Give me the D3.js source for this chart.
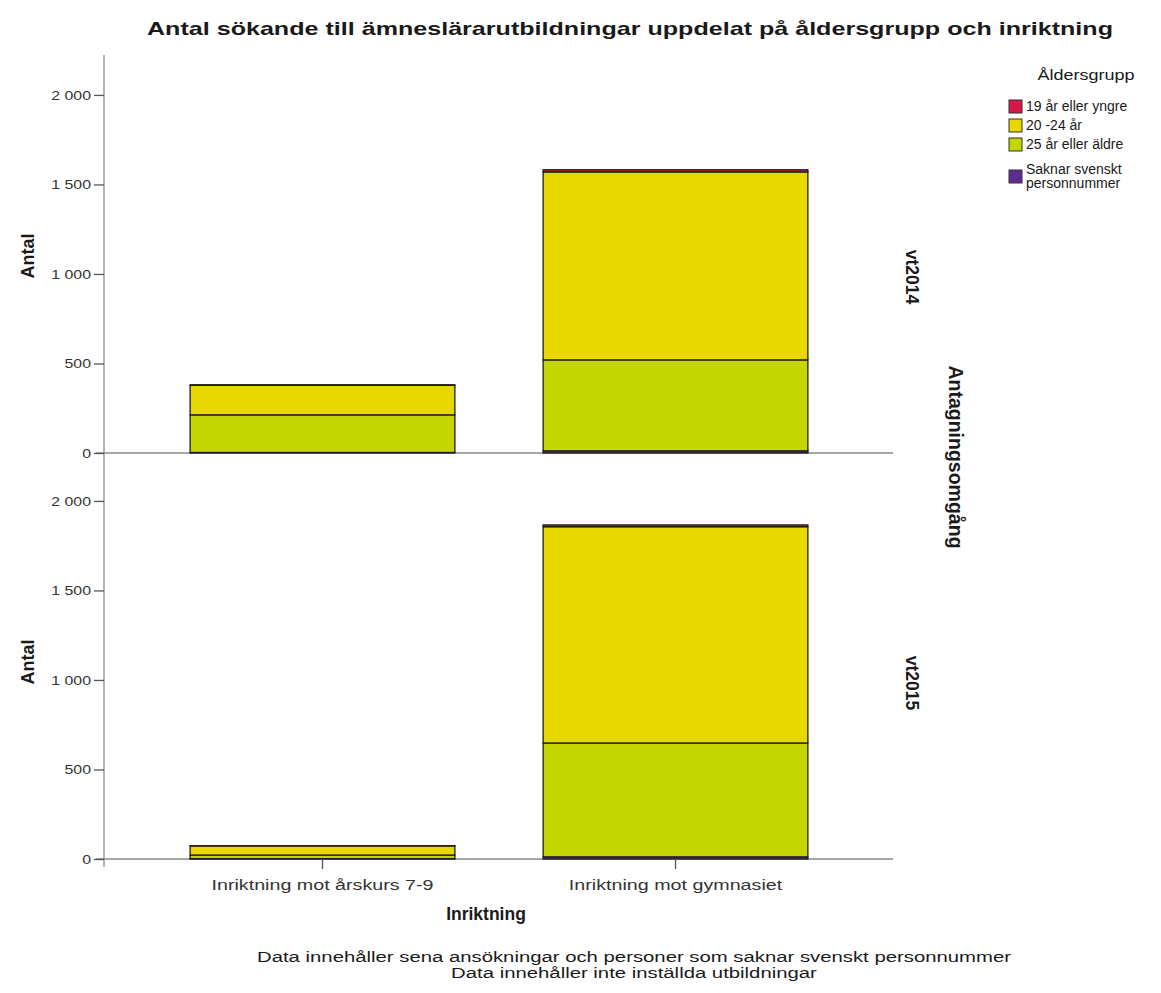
<!doctype html>
<html lang="sv">
<head>
<meta charset="utf-8">
<title>Antal sökande till ämneslärarutbildningar</title>
<script src="https://cdnjs.cloudflare.com/ajax/libs/d3/7.8.5/d3.min.js"></script>
<style>
  body { margin: 0; background: #fff; }
  svg text { font-family: Arial, "Liberation Sans", sans-serif; fill: #1a1a1a; }
  .tick text { fill: #333; }
</style>
</head>
<body>
<div id="chart"></div>
<script>
// data
var categories = ["Inriktning mot årskurs 7-9", "Inriktning mot gymnasiet"];
var rounds = ["vt2014", "vt2015"];
var ageGroups = ["19 år eller yngre", "20 -24 år", "25 år eller äldre", "Saknar svenskt personnummer"];
var ageColors = ["#d8174a", "#e9d800", "#c4d600", "#5c2d91"];

// values per round, one array per age group, in category order
var young2014 = [3, 12];
var mid2014 = [165, 1050];
var old2014 = [210, 508];
var noId2014 = [3, 12];

var young2015 = [1, 10];
var mid2015 = [51, 1208];
var old2015 = [20, 636];
var noId2015 = [2, 12];

var yTicks = [0, 500, 1000, 1500, 2000];
var yMax = 2223;

var footnotes = [
  "Data innehåller sena ansökningar och personer som saknar svenskt personnummer",
  "Data innehåller inte inställda utbildningar"
];

var seriesByRound = {
  vt2014: [young2014, mid2014, old2014, noId2014],
  vt2015: [young2015, mid2015, old2015, noId2015]
};

var W = 1161, H = 993;
var x0 = 104, x1 = 893;
var panels = [{ top: 55, bottom: 453 }, { top: 461, bottom: 859 }];

var svg = d3.select("#chart").append("svg")
    .attr("width", W)
    .attr("height", H);

// stretch text to a width, the reference is drawn wide
function fit(sel, w) {
  sel.attr("textLength", w).attr("lengthAdjust", "spacingAndGlyphs");
}
function widen(sel, k) {
  sel.each(function() {
    d3.select(this).call(fit, this.getComputedTextLength() * k);
  });
}

var x = d3.scaleBand()
    .domain(categories)
    .range([146, 852])
    .paddingInner(0.25)
    .paddingOuter(0.125);

var color = d3.scaleOrdinal().domain(ageGroups).range(ageColors);

// bottom of stack is the last group
var stackKeys = ageGroups.slice().reverse();

// left axis line through both panels
svg.append("line")
    .attr("x1", x0).attr("x2", x0)
    .attr("y1", panels[0].top).attr("y2", panels[1].bottom + 8)
    .attr("stroke", "#8a8a8a").attr("stroke-width", 1.3);

rounds.forEach(function(r, i) {
  var p = panels[i];
  var y = d3.scaleLinear().domain([0, yMax]).range([p.bottom, p.top]);

  var rows = categories.map(function(c, ci) {
    var row = { cat: c };
    ageGroups.forEach(function(g, gi) { row[g] = seriesByRound[r][gi][ci]; });
    return row;
  });
  var stacked = d3.stack().keys(stackKeys)(rows);

  var g = svg.append("g");

  // baseline
  g.append("line")
      .attr("x1", x0 - 8).attr("x2", x1)
      .attr("y1", y(0)).attr("y2", y(0))
      .attr("stroke", "#8a8a8a").attr("stroke-width", 1.3);

  g.selectAll("g.layer")
    .data(stacked)
    .enter().append("g")
      .attr("class", "layer")
      .attr("fill", function(d) { return color(d.key); })
    .selectAll("rect")
    .data(function(d) { return d; })
    .enter().append("rect")
      .attr("x", function(d) { return x(d.data.cat); })
      .attr("width", x.bandwidth())
      .attr("y", function(d) { return y(d[1]); })
      .attr("height", function(d) { return y(d[0]) - y(d[1]); })
      .attr("stroke", "#1e1e1e")
      .attr("stroke-width", 1.3);

  var ax = g.append("g")
      .attr("transform", "translate(" + x0 + ",0)")
      .call(d3.axisLeft(y).tickValues(yTicks).tickSize(10).tickPadding(3)
        .tickFormat(function(d) { return d3.format(",")(d).replace(",", " "); }));
  ax.select(".domain").remove();
  ax.selectAll(".tick line").attr("stroke", "#555").attr("stroke-width", 1.3);
  ax.selectAll(".tick text")
      .attr("font-size", 13)
      .attr("font-family", "Arial, 'Liberation Sans', sans-serif")
      .call(widen, 1.22);

  // y title
  svg.append("text")
      .attr("transform", "translate(34," + ((p.top + p.bottom) / 2 + 2) + ") rotate(-90)")
      .attr("text-anchor", "middle")
      .attr("font-size", 18)
      .attr("font-weight", "bold")
      .text("Antal");

  // facet label
  svg.append("text")
      .attr("transform", "translate(906," + ((p.top + p.bottom) / 2 + 23) + ") rotate(90)")
      .attr("text-anchor", "middle")
      .attr("font-size", 17.5)
      .attr("font-weight", "bold")
      .text(r);
});

// x axis under the bottom panel
var xa = svg.append("g")
    .attr("transform", "translate(0," + panels[1].bottom + ")")
    .call(d3.axisBottom(x).tickSize(10).tickPadding(10));
xa.select(".domain").remove();
xa.selectAll(".tick line").attr("stroke", "#555").attr("stroke-width", 1.3);
xa.selectAll(".tick text")
    .attr("font-size", 15.5)
    .attr("font-family", "Arial, 'Liberation Sans', sans-serif")
    .call(widen, 1.27);

svg.append("text")
    .attr("x", 486).attr("y", 920)
    .attr("text-anchor", "middle")
    .attr("font-size", 17.5)
    .attr("font-weight", "bold")
    .text("Inriktning");

svg.append("text")
    .attr("transform", "translate(949,457) rotate(90)")
    .attr("text-anchor", "middle")
    .attr("font-size", 19.5)
    .attr("font-weight", "bold")
    .text("Antagningsomgång");

// title
svg.append("text")
    .attr("x", 630).attr("y", 35)
    .attr("text-anchor", "middle")
    .attr("font-size", 19)
    .attr("font-weight", "bold")
    .call(fit, 966)
    .text("Antal sökande till ämneslärarutbildningar uppdelat på åldersgrupp och inriktning");

// footnotes
svg.selectAll("text.foot")
  .data(footnotes)
  .enter().append("text")
    .attr("class", "foot")
    .attr("x", 634)
    .attr("y", function(d, i) { return 962 + i * 16; })
    .attr("text-anchor", "middle")
    .attr("font-size", 15.5)
    .text(function(d) { return d; })
    .call(widen, 1.31);

// legend
var lg = svg.append("g").attr("transform", "translate(1009,0)");
lg.append("text")
    .attr("x", 77).attr("y", 80)
    .attr("text-anchor", "middle")
    .attr("font-size", 15)
    .attr("fill", "#333")
    .text("Åldersgrupp")
    .call(widen, 1.2);

var rowY = [106, 125, 144, 176];
var item = lg.selectAll("g.item")
  .data(ageGroups)
  .enter().append("g")
    .attr("class", "item")
    .attr("transform", function(d, i) { return "translate(0," + rowY[i] + ")"; });

item.append("rect")
    .attr("x", 0).attr("y", -6)
    .attr("width", 13).attr("height", 13)
    .attr("fill", function(d) { return color(d); })
    .attr("stroke", "#333").attr("stroke-width", 1);

item.each(function(d) {
  var words = d.split(" ");
  var lines = d.length > 20 ? [words.slice(0, 2).join(" "), words.slice(2).join(" ")] : [d];
  var t = d3.select(this).append("text")
      .attr("font-size", 14);
  lines.forEach(function(l, li) {
    t.append("tspan")
        .attr("x", 17)
        .attr("y", lines.length > 1 ? -2 + li * 14 : 5)
        .text(l);
  });
});
</script>
</body>
</html>
